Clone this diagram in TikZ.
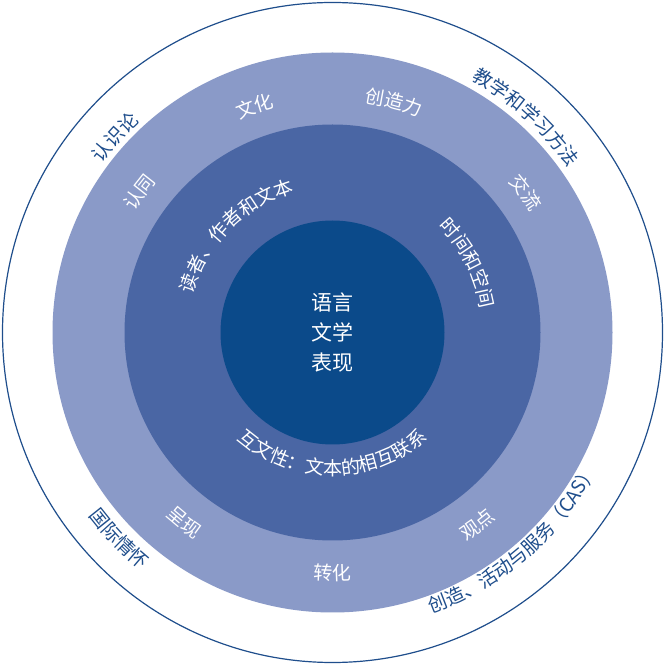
\documentclass[tikz,border=0pt]{standalone}
\usepackage{fontspec}
\setmainfont{Noto Sans CJK SC}
\usetikzlibrary{decorations.text}
\definecolor{ringline}{HTML}{1F4E8C}
\definecolor{ringlight}{HTML}{8A9AC8}
\definecolor{ringmid}{HTML}{4A66A4}
\definecolor{ringcore}{HTML}{0B4A8A}
% #1 centre angle, #2 radius, #3 text, #4 colour; top = clockwise, bottom = counterclockwise
\newcommand\toplabel[4]{%
  \path[decorate, decoration={text along path, text align=center,
      text={|\fontsize{19}{23}\selectfont|#3}, text color=#4}]
    (C) ++(#1+50:#2) arc[start angle=#1+50, end angle=#1-50, radius=#2];}
\newcommand\botlabel[4]{%
  \path[decorate, decoration={text along path, text align=center,
      text={|\fontsize{19}{23}\selectfont|#3}, text color=#4}]
    (C) ++(#1-50:#2) arc[start angle=#1-50, end angle=#1+50, radius=#2];}
\begin{document}
\begin{tikzpicture}[x=1pt, y=1pt]
  \useasboundingbox (0,0) rectangle (665,665);
  \coordinate (C) at (332.5,332.5);
  \fill[white, draw=ringline, line width=1.2pt] (C) circle[radius=330];
  \fill[ringlight] (C) circle[radius=280];
  \fill[ringmid] (C) circle[radius=208];
  \fill[ringcore] (C) circle[radius=112];
  \node[white, align=center, font=\fontsize{21}{30}\selectfont] (core) at (C) {语言\\文学\\表现};
  % outer ring
  \toplabel{138}{286}{认识论}{ringline}
  \toplabel{48}{288}{教学和学习方法}{ringline}
  \botlabel{224}{305}{国际情怀}{ringline}
  \botlabel{311}{298}{创造、活动与服务（CAS）}{ringline}
  % light ring
  \toplabel{109}{232}{文化}{white}
  \toplabel{75}{232}{创造力}{white}
  \toplabel{144}{232}{认同}{white}
  \toplabel{36}{232}{交流}{white}
  \botlabel{232}{248}{呈现}{white}
  \botlabel{270}{248}{转化}{white}
  \botlabel{307}{248}{观点}{white}
  % middle ring
  \toplabel{135}{145}{读者、作者和文本}{white}
  \toplabel{27}{150}{时间和空间}{white}
  \botlabel{270}{143}{互文性：文本的相互联系}{white}
\end{tikzpicture}
\end{document}
